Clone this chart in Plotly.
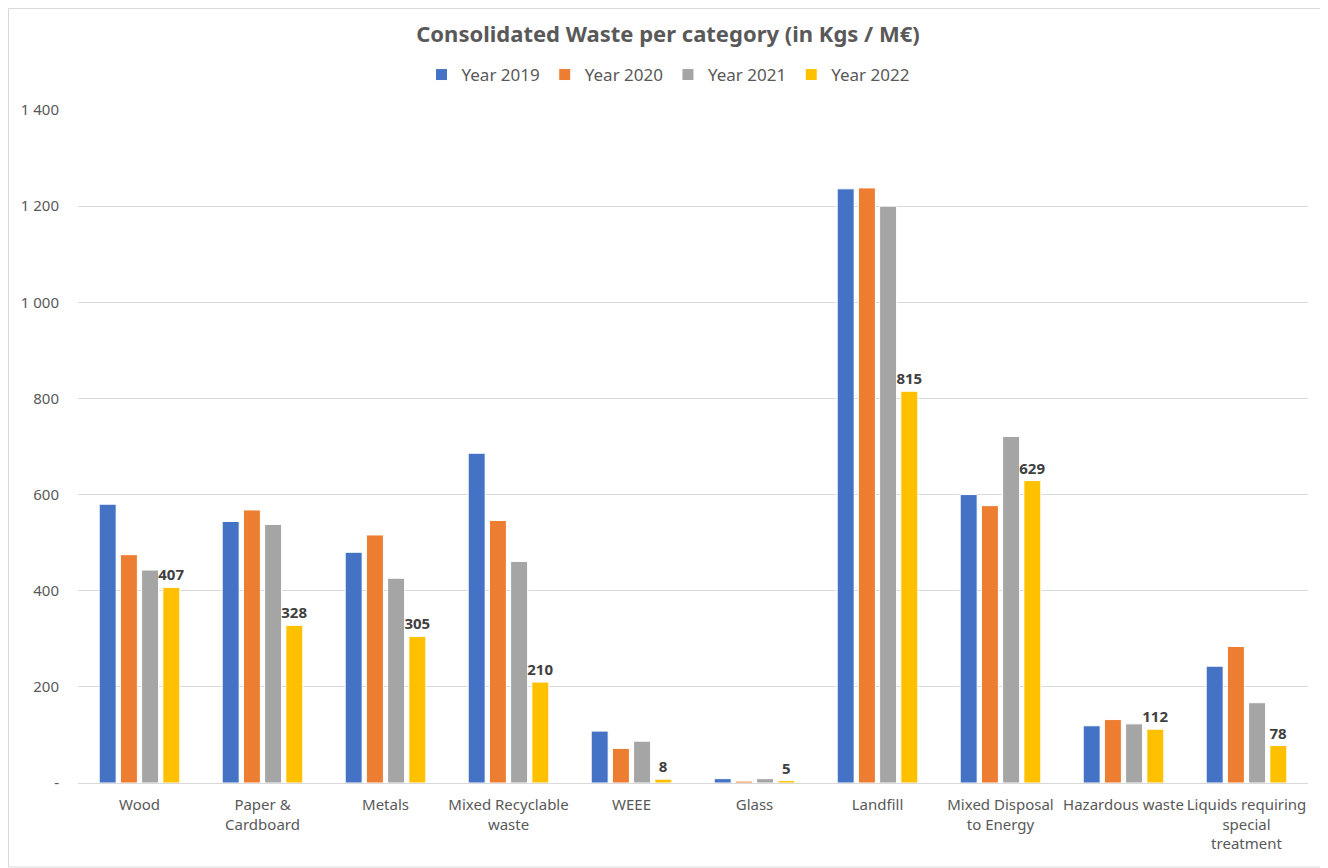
import plotly.graph_objects as go

categories = ["Wood", "Paper &<br>Cardboard", "Metals", "Mixed Recyclable<br>waste", "WEEE",
              "Glass", "Landfill", "Mixed Disposal<br>to Energy", "Hazardous waste",
              "Liquids requiring<br>special<br>treatment"]
series_names = ["Year 2019", "Year 2020", "Year 2021", "Year 2022"]
y2019 = [580, 544, 480, 686, 108, 9, 1236, 600, 119, 243]
y2020 = [475, 568, 516, 546, 72, 4, 1238, 577, 132, 284]
y2021 = [443, 538, 426, 461, 87, 9, 1200, 721, 123, 167]
y2022 = [407, 328, 305, 210, 8, 5, 815, 629, 112, 78]
colors = ["#4472C4", "#ED7D31", "#A5A5A5", "#FFC000"]
tick_vals = [0, 200, 400, 600, 800, 1000, 1200, 1400]
tick_text = ["-", "200", "400", "600", "800", "1 000", "1 200", "1 400"]

FONT = "Noto Sans"
fig = go.Figure()
for name, vals, col in zip(series_names, [y2019, y2020, y2021, y2022], colors):
    kw = {}
    if name == "Year 2022":
        kw = dict(text=[str(v) for v in vals], textposition="outside",
                  textfont=dict(family=FONT, size=15, color="#404040", weight="bold"),
                  constraintext="none", cliponaxis=False)
    fig.add_trace(go.Bar(x=categories, y=vals, name=name,
                         marker=dict(color=col, line=dict(color="white", width=1)), **kw))

# page body has an 8px margin; compensate so the plot lands at the reference position
W, H = 1320, 860
L, R, T, B = 70, 20, 102, 85
pw, ph = W - L - R, H - T - B

fig.update_layout(
    width=W, height=H,
    margin=dict(l=L, r=R, t=T, b=B, autoexpand=False),
    paper_bgcolor="white", plot_bgcolor="white",
    barmode="group", bargap=0.31, bargroupgap=0.2,
    title=dict(text="<b>Consolidated Waste per category (in Kgs / M€)</b>",
               x=0.5, xanchor="center", y=1 - 26 / H, yanchor="middle",
               font=dict(family=FONT, size=22, color="#595959")),
    legend=dict(orientation="h", x=(W / 2 - L) / pw, xanchor="center",
                y=(H - B - 67) / ph, yanchor="middle",
                font=dict(family=FONT, size=17, color="#595959"), itemwidth=30,
                traceorder="normal"),
    font=dict(family=FONT, color="#595959"),
    xaxis=dict(showgrid=False, showline=True, linecolor="#d9d9d9", linewidth=1,
               tickfont=dict(family=FONT, size=15, color="#595959"), ticks="",
               ticklabelstandoff=8),
    yaxis=dict(range=[0, 1400], tickvals=tick_vals, ticktext=tick_text,
               showgrid=True, gridcolor="#d9d9d9", gridwidth=1, zeroline=False,
               showline=False, ticks="", ticklabelstandoff=18,
               tickfont=dict(family=FONT, size=15, color="#595959")),
    shapes=[dict(type="rect", xref="paper", yref="paper",
                 x0=(0.5 - L) / pw, x1=(W - 1 - L) / pw,
                 y0=(H - B - (H - 1)) / ph, y1=(H - B - 0.5) / ph,
                 line=dict(color="#d9d9d9", width=1), fillcolor="rgba(0,0,0,0)", layer="below")],
)
fig.write_html("out.html")
